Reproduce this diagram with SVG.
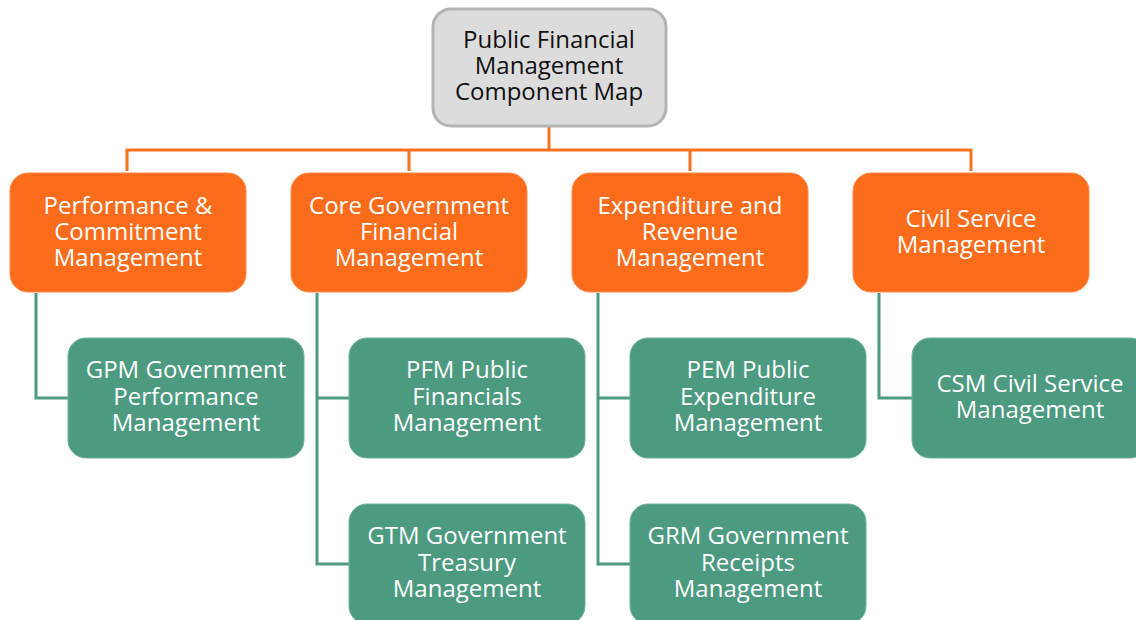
<svg xmlns="http://www.w3.org/2000/svg" width="1136" height="620" viewBox="0 0 1136 620">
<style>
.root{fill:#dcdcdc;stroke:#b3b3b3;stroke-width:3}
.cat{fill:#fd6c1b;stroke:#fd8a4a;stroke-width:1}
.sub{fill:#4c9a80;stroke:#6fb39b;stroke-width:1}
text{font-family:"Open Sans","Noto Sans","Liberation Sans",sans-serif;font-size:24px;text-anchor:middle}
.dk{fill:#111}
.wt{fill:#fff}
.oc{fill:none;stroke:#f5731f;stroke-width:3}
.gc{fill:none;stroke:#4c9a80;stroke-width:3}
</style>
<rect width="1136" height="620" fill="#fff"/>
<g id="connectors">
<path class="oc" d="M549 127V150M127 171V150H971V171M409 150V171M690 150V171"/>
<path class="gc" d="M36 293V398H68"/>
<path class="gc" d="M317 293V564H349M317 398H349"/>
<path class="gc" d="M598 293V564H630M598 398H630"/>
<path class="gc" d="M879 293V398H912"/>
</g>
<g id="root">
<rect class="root" x="433" y="9" width="233" height="117" rx="18"/>
<text class="dk" x="549" y="48">Public Financial</text>
<text class="dk" x="549" y="74">Management</text>
<text class="dk" x="549" y="100">Component Map</text>
</g>
<g id="pcm">
<rect class="cat" x="10" y="173" width="236" height="119" rx="18"/>
<text class="wt" x="128" y="214">Performance &amp;</text>
<text class="wt" x="128" y="240">Commitment</text>
<text class="wt" x="128" y="266">Management</text>
</g>
<g id="cgfm">
<rect class="cat" x="291" y="173" width="236" height="119" rx="18"/>
<text class="wt" x="409" y="214">Core Government</text>
<text class="wt" x="409" y="240">Financial</text>
<text class="wt" x="409" y="266">Management</text>
</g>
<g id="erm">
<rect class="cat" x="572" y="173" width="236" height="119" rx="18"/>
<text class="wt" x="690" y="214">Expenditure and</text>
<text class="wt" x="690" y="240">Revenue</text>
<text class="wt" x="690" y="266">Management</text>
</g>
<g id="csm-cat">
<rect class="cat" x="853" y="173" width="236" height="119" rx="18"/>
<text class="wt" x="971" y="227">Civil Service</text>
<text class="wt" x="971" y="253">Management</text>
</g>
<g id="gpm">
<rect class="sub" x="68" y="338" width="236" height="120" rx="18"/>
<text class="wt" x="186" y="378">GPM Government</text>
<text class="wt" x="186" y="405">Performance</text>
<text class="wt" x="186" y="431">Management</text>
</g>
<g id="pfm">
<rect class="sub" x="349" y="338" width="236" height="120" rx="18"/>
<text class="wt" x="467" y="378">PFM Public</text>
<text class="wt" x="467" y="405">Financials</text>
<text class="wt" x="467" y="431">Management</text>
</g>
<g id="gtm">
<rect class="sub" x="349" y="504" width="236" height="120" rx="18"/>
<text class="wt" x="467" y="544">GTM Government</text>
<text class="wt" x="467" y="571">Treasury</text>
<text class="wt" x="467" y="597">Management</text>
</g>
<g id="pem">
<rect class="sub" x="630" y="338" width="236" height="120" rx="18"/>
<text class="wt" x="748" y="378">PEM Public</text>
<text class="wt" x="748" y="405">Expenditure</text>
<text class="wt" x="748" y="431">Management</text>
</g>
<g id="grm">
<rect class="sub" x="630" y="504" width="236" height="120" rx="18"/>
<text class="wt" x="748" y="544">GRM Government</text>
<text class="wt" x="748" y="571">Receipts</text>
<text class="wt" x="748" y="597">Management</text>
</g>
<g id="csm">
<rect class="sub" x="912" y="338" width="236" height="120" rx="18"/>
<text class="wt" x="1030" y="392">CSM Civil Service</text>
<text class="wt" x="1030" y="418">Management</text>
</g>
</svg>
